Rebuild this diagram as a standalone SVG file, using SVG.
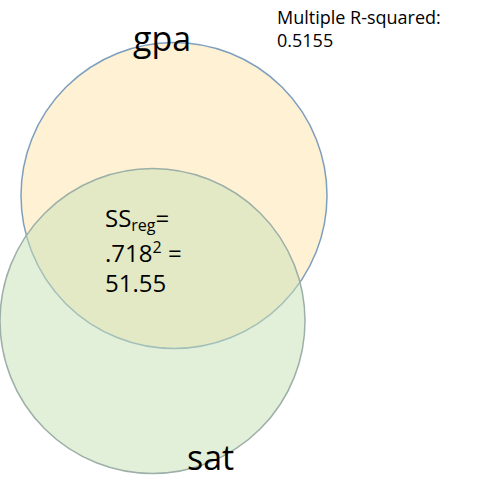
<svg xmlns="http://www.w3.org/2000/svg" width="495" height="499" viewBox="0 0 495 499">
<style>
text{font-family:"Open Sans","Noto Sans","Liberation Sans",sans-serif;fill:#000}
.lbl{font-size:34px}
.small{font-size:18px}
.mid{font-size:24px}
</style>
<rect width="495" height="499" fill="#fff"/>
<g id="gpa">
<circle cx="174" cy="195.5" r="153" fill="#FFF2D4" stroke="#7E9EBE" stroke-width="1.5"/>
</g>
<g id="sat">
<circle cx="152.5" cy="321" r="152.5" fill="#C5E0B4" fill-opacity="0.5" stroke="#9DB0A8" stroke-width="1.5"/>
</g>
<g id="labels">
<text class="lbl" x="133" y="51">gpa</text>
<text class="lbl" x="187" y="470">sat</text>
<text class="small" x="277" y="24">Multiple R-squared:</text>
<text class="small" x="277" y="47">0.5155</text>
<text class="mid" x="105" y="227">SS<tspan font-size="16" dy="4">reg</tspan><tspan dy="-4">=</tspan></text>
<text class="mid" x="105" y="262">.718<tspan font-size="16" dy="-9">2</tspan><tspan dy="9"> =</tspan></text>
<text class="mid" x="105" y="292">51.55</text>
</g>
</svg>
